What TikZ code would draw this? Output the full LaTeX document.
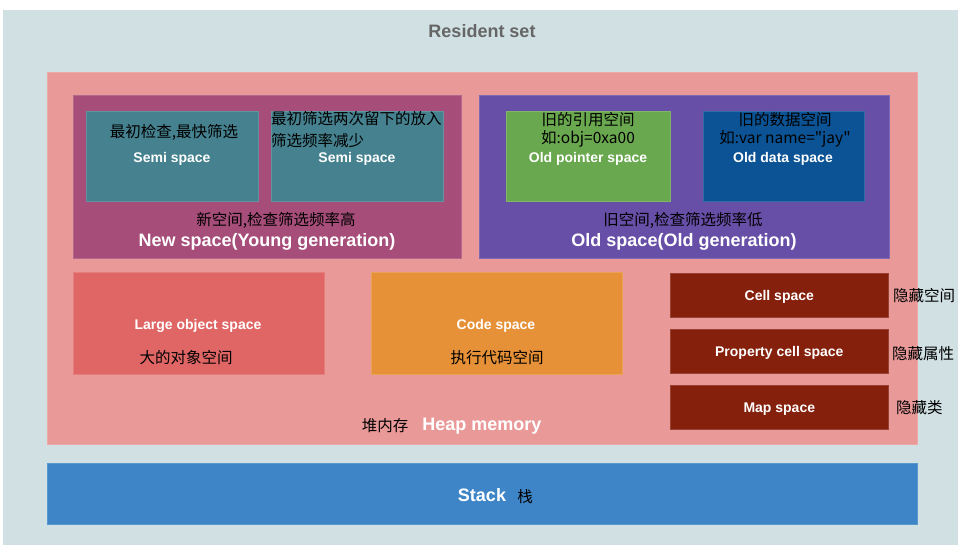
\documentclass[tikz,border=0pt]{standalone}
\usepackage{fontspec}
\setmainfont{Liberation Sans}
\newfontfamily\cjk{Noto Sans CJK SC}
\usepackage{tikz}
\usetikzlibrary{positioning}
\definecolor{ResidentColor}{HTML}{D0E0E3}
\definecolor{TitleGray}{HTML}{666666}
\definecolor{HeapColor}{HTML}{EA9999}
\definecolor{NewColor}{HTML}{A64D79}
\definecolor{SemiColor}{HTML}{45818E}
\definecolor{OldColor}{HTML}{674EA7}
\definecolor{PointerColor}{HTML}{6AA84F}
\definecolor{DataColor}{HTML}{0B5394}
\definecolor{LargeColor}{HTML}{E06666}
\definecolor{CodeColor}{HTML}{E69138}
\definecolor{CellColor}{HTML}{85200C}
\definecolor{StackColor}{HTML}{3D85C6}
\tikzset{
  region/.style={fill=#1, draw=#1!85!white, line width=0.6pt, anchor=north west, inner sep=0pt},
  entxt/.style={text=white, font=\bfseries\fontsize{14}{16}\selectfont, inner sep=0pt, yshift=-1.5pt},
  bigtxt/.style={text=white, font=\bfseries\fontsize{18}{20}\selectfont, inner sep=0pt, yshift=-1.5pt},
  cntxt/.style={text=black, font=\cjk\fontsize{15.5}{18}\selectfont, inner sep=0pt, yshift=-1pt},
}

\begin{document}
\begin{tikzpicture}[x=1pt, y=-1pt]
  \useasboundingbox (0,0) rectangle (974,553);
  \fill[white] (0,0) rectangle (974,553);
  \fill[ResidentColor] (3,10) rectangle (958,545);
  \node[text=TitleGray, font=\bfseries\fontsize{18}{20}\selectfont, yshift=-1pt] (title) at (482,30) {Resident set};

  % heap and stack
  \node[region=HeapColor, minimum width=870pt, minimum height=372pt] (heap) at (47,72) {};
  \node[region=StackColor, minimum width=870pt, minimum height=61pt] (stack) at (47,463) {};
  \node[bigtxt] (stacktxt) at (482,494) {Stack};
  \node[cntxt, right=11pt of stacktxt] (stackcn) {栈};

  % new space
  \node[region=NewColor, minimum width=388pt, minimum height=163pt] (new) at (73,95) {};
  \node[region=SemiColor, minimum width=172pt, minimum height=90pt] (semiA) at (86,111) {};
  \node[region=SemiColor, minimum width=172pt, minimum height=90pt] (semiB) at (271,111) {};
  \node[cntxt] (semiAcn) at (174,131) {最初检查,最快筛选};
  \node[entxt] (semiAtxt) at (172,157) {Semi space};
  \node[cntxt, align=left, anchor=north west, font=\cjk\fontsize{15.5}{22}\selectfont] (semiBcn) at (271,110) {最初筛选两次留下的放入\\筛选频率减少};
  \node[entxt] (semiBtxt) at (357,157) {Semi space};
  \node[cntxt] (newcn) at (276,219) {新空间,检查筛选频率高};
  \node[bigtxt] (newtxt) at (267,240) {New space(Young generation)};

  % old space
  \node[region=OldColor, minimum width=410pt, minimum height=163pt] (old) at (479,95) {};
  \node[region=PointerColor, minimum width=164pt, minimum height=90pt] (pointer) at (506,111) {};
  \node[region=DataColor, minimum width=161pt, minimum height=90pt] (data) at (703,111) {};
  \node[cntxt, align=center, font=\cjk\fontsize{15.5}{18}\selectfont] (pointercn) at (588,129) {旧的引用空间\\如:obj=0xa00};
  \node[entxt] (pointertxt) at (588,157) {Old pointer space};
  \node[cntxt, align=center, font=\cjk\fontsize{15.5}{18}\selectfont] (datacn) at (785,129) {旧的数据空间\\如:var name="jay"};
  \node[entxt] (datatxt) at (783,157) {Old data space};
  \node[cntxt] (oldcn) at (683,219) {旧空间,检查筛选频率低};
  \node[bigtxt] (oldtxt) at (684,240) {Old space(Old generation)};

  % large object and code
  \node[region=LargeColor, minimum width=251pt, minimum height=102pt] (large) at (73,272) {};
  \node[entxt] (largetxt) at (198,324) {Large object space};
  \node[cntxt] (largecn) at (186,357) {大的对象空间};
  \node[region=CodeColor, minimum width=251pt, minimum height=102pt] (code) at (371,272) {};
  \node[entxt] (codetxt) at (496,324) {Code space};
  \node[cntxt] (codecn) at (497,357) {执行代码空间};

  % hidden spaces
  \node[region=CellColor, minimum width=218pt, minimum height=44pt] (cell) at (670,273) {};
  \node[region=CellColor, minimum width=218pt, minimum height=44pt] (prop) at (670,329) {};
  \node[region=CellColor, minimum width=218pt, minimum height=44pt] (map) at (670,385) {};
  \node[entxt] (celltxt) at (cell.center) {Cell space};
  \node[entxt] (proptxt) at (prop.center) {Property cell space};
  \node[entxt] (maptxt) at (map.center) {Map space};
  \node[cntxt, anchor=west] (cellcn) at (893,295) {隐藏空间};
  \node[cntxt, anchor=west] (propcn) at (892,353) {隐藏属性};
  \node[cntxt, anchor=west] (mapcn) at (896,407) {隐藏类};

  \node[cntxt] (heapcn) at (385,425) {堆内存};
  \node[bigtxt] (heaptxt) at (482,425) {Heap memory};
\end{tikzpicture}
\end{document}
